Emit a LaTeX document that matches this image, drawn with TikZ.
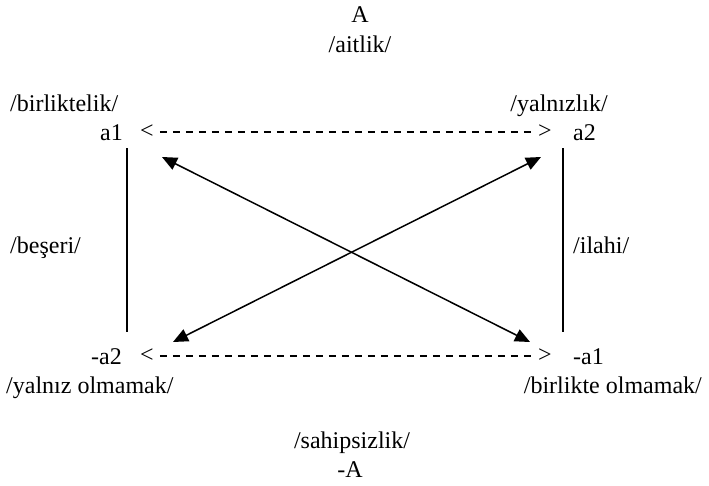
\documentclass[tikz,border=0pt]{standalone}
\usepackage{fontspec}
\setmainfont{Liberation Serif}
\usetikzlibrary{arrows.meta}
\begin{document}
\begin{tikzpicture}[x=1pt,y=-1pt,
  txt/.style={inner sep=0pt,font=\fontsize{24}{28}\selectfont},
  sym/.style={inner sep=0pt,font=\fontsize{24}{28}\selectfont},
  bar/.style={line width=1.5pt},
  dsh/.style={line width=1.2pt,dash pattern=on 7pt off 6pt},
  dbl/.style={line width=1.5pt,{Triangle[length=15pt,width=13pt]}-{Triangle[length=15pt,width=13pt]}}]
\useasboundingbox (0,0) rectangle (709,485);
% top
\node[txt,anchor=base] (A) at (360,22) {A};
\node[txt,anchor=base] (aitlik) at (360,52) {/aitlik/};
% top row
\node[txt,anchor=base west] (birliktelik) at (10,111) {/birliktelik/};
\node[txt,anchor=base east] (yalnizlik) at (608,111) {/yalnızlık/};
\node[txt,anchor=base east] (a1) at (123,140) {a1};
\node[sym] (lt1) at (147,132) {<};
\node[sym] (gt1) at (545,132) {>};
\node[txt,anchor=base west] (a2) at (573,140) {a2};
\path (lt1.east) ++(6,0) coordinate (d1s) (gt1.west) ++(-6,0) coordinate (d1e);
\draw[dsh] (d1s) -- (d1e);
% sides
\coordinate (l1) at (127,148);
\coordinate (l2) at (127,332);
\coordinate (r1) at (563,148);
\coordinate (r2) at (563,332);
\draw[bar] (l1) -- (l2);
\draw[bar] (r1) -- (r2);
\node[txt,anchor=base west] (beseri) at (10,253) {/beşeri/};
\node[txt,anchor=base west] (ilahi) at (573,253) {/ilahi/};
% bottom row
\node[txt,anchor=base east] (ma2) at (122,364) {-a2};
\node[sym] (lt2) at (147,356) {<};
\node[sym] (gt2) at (545,356) {>};
\node[txt,anchor=base west] (ma1) at (573,364) {-a1};
\path (lt2.east) ++(6,0) coordinate (d2s) (gt2.west) ++(-6,0) coordinate (d2e);
\draw[dsh] (d2s) -- (d2e);
\node[txt,anchor=base west] (yalnizolm) at (6,393) {/yalnız olmamak/};
\node[txt,anchor=base east] (birlikteolm) at (702,393) {/birlikte olmamak/};
% bottom
\node[txt,anchor=base] (sahip) at (352,448) {/sahipsizlik/};
\node[txt,anchor=base] (mA) at (350,477) {-A};
% diagonals
\coordinate (tl) at (162,157);
\coordinate (br) at (530,342);
\coordinate (tr) at (541,157);
\coordinate (bl) at (173,342);
\draw[dbl] (tl) -- (br);
\draw[dbl] (tr) -- (bl);
\end{tikzpicture}
\end{document}
